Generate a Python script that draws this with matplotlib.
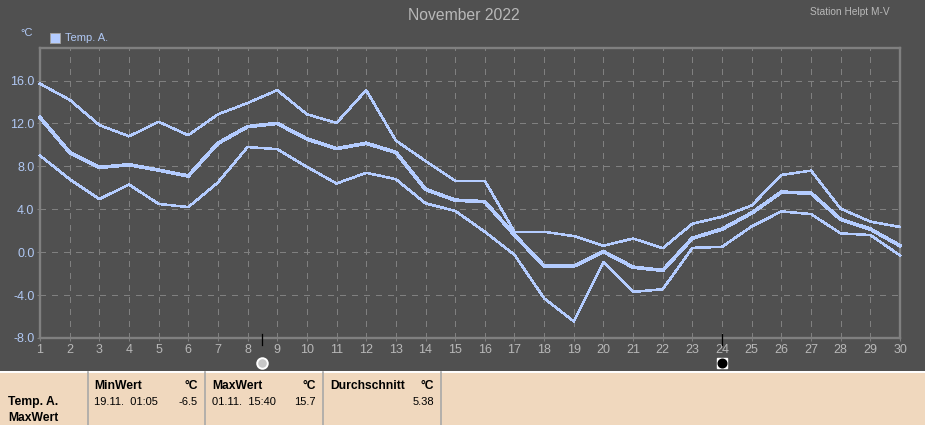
import matplotlib
matplotlib.use("Agg")
import matplotlib.pyplot as plt
from matplotlib.patches import Rectangle
from matplotlib.transforms import blended_transform_factory

plt.rcParams['font.family'] = ['Liberation Sans', 'DejaVu Sans']

days = list(range(1, 31))
temp_max = [15.7, 14.2, 11.85, 10.8, 12.15, 10.9, 12.85, 13.9, 15.1, 12.85,
            12.05, 15.1, 10.4, 8.5, 6.65, 6.65, 1.9, 1.9, 1.5, 0.6,
            1.27, 0.37, 2.65, 3.3, 4.35, 7.2, 7.6, 4.05, 2.85, 2.35]
temp_mean = [12.55, 9.3, 7.9, 8.15, 7.65, 7.1, 10.15, 11.7, 12.0, 10.55,
             9.65, 10.15, 9.3, 5.85, 4.85, 4.7, 1.6, -1.3, -1.3, 0.05,
             -1.4, -1.7, 1.3, 2.15, 3.65, 5.6, 5.5, 3.05, 2.15, 0.6]
temp_min = [9.0, 6.8, 4.95, 6.3, 4.5, 4.2, 6.5, 9.8, 9.6, 7.95,
            6.4, 7.4, 6.8, 4.55, 3.85, 1.9, -0.25, -4.3, -6.45, -0.95,
            -3.7, -3.45, 0.4, 0.5, 2.4, 3.8, 3.55, 1.75, 1.6, -0.3]
y_ticks = [-8, -4, 0, 4, 8, 12, 16]
full_moon_day = 8.5
new_moon_day = 24

BG = "#505050"
GRID = "#808080"
LINE = "#B4CCFF"
GREY_TEXT = "#B8B8B8"
STRIP = "#F0D8BE"
W, H = 925, 425

fig = plt.figure(figsize=(W / 100, H / 100), dpi=100, facecolor=BG)
ax = fig.add_axes([40 / W, 1 - 338 / H, 860 / W, 290 / H], facecolor=BG)

ax.plot(days, temp_max, color=LINE, lw=1.1, antialiased=False, zorder=3, clip_on=False)
ax.plot(days, temp_min, color=LINE, lw=1.1, antialiased=False, zorder=3, clip_on=False)
ax.plot(days, temp_mean, color=LINE, lw=1.9, antialiased=False, zorder=3, clip_on=False)

ax.set_xlim(1, 30)
ax.set_ylim(-8, 19.03)
ax.set_xticks(days)
ax.set_yticks(y_ticks)
ax.set_yticklabels([f"{v:.1f}" for v in y_ticks])
ax.grid(True, color=GRID, lw=0.8, linestyle=(0, (5, 6)), antialiased=False)
ax.set_axisbelow(True)
for s in ax.spines.values():
    s.set_color(GRID)
    s.set_linewidth(1.7)
ax.tick_params(axis='x', colors=GREY_TEXT, labelsize=9, length=2.5, width=0.7, color=GRID, pad=2)
ax.tick_params(axis='y', colors="#B0C8F4", labelsize=9, length=2.5, width=0.7, color=GRID, pad=1.5)

# moon phases under the axis
tr = blended_transform_factory(ax.transData, ax.transAxes)
for d in [full_moon_day, new_moon_day]:
    ax.plot([d, d], [0.014, -0.024], color="black", lw=0.9, transform=tr, clip_on=False, zorder=5)
ax.plot(full_moon_day, -0.086, "o", ms=7.6, mfc="#C8C8C8", mec="white", mew=1.4,
        transform=tr, clip_on=False)
ax.plot(new_moon_day, -0.086, "s", ms=7.6, mfc="white", mec="white", transform=tr, clip_on=False)
ax.plot(new_moon_day, -0.086, "o", ms=6.2, mfc="black", mec="black", transform=tr, clip_on=False)

# header texts, pixel coords
fig.text(464 / W, 1 - 15.5 / H, "November 2022", color=GREY_TEXT, fontsize=11.3,
         ha="center", va="center")
fig.text(890 / W, 1 - 12 / H, "Station Helpt M-V", color=GREY_TEXT, fontsize=7.3,
         ha="right", va="center")
fig.text(20 / W, 1 - 33 / H, "°C", color="#B0C8F4", fontsize=8, va="center")
fig.patches.append(Rectangle((50 / W, 1 - 43 / H), 10 / W, 10 / H, transform=fig.transFigure,
                             facecolor=LINE, edgecolor="#A0A0A0", lw=0.7, figure=fig))
fig.text(65 / W, 1 - 38 / H, "Temp. A.", color="#B0C8F4", fontsize=8, va="center")

# statistics strip at the bottom
tb = fig.add_axes([0, 0, 1, 54 / H], facecolor=STRIP)
tb.set_xlim(0, W)
tb.set_ylim(H, H - 54)
tb.axis("off")
tb.add_patch(Rectangle((0, H - 54), W, 54, facecolor=STRIP, edgecolor="none"))
tb.plot([0, W], [372, 372], color="white", lw=1.4)
for x in [88, 205, 323, 441]:
    tb.plot([x, x], [372, H], color="#A8A8A8", lw=1.2)

col_left = [94, 212, 330]
col_right = [198, 316, 434]
col_heads = ["MinWert", "MaxWert", "Durchschnitt"]
col_times = ["19.11.  01:05", "01.11.  15:40", ""]
col_vals = ["-6.5", "15.7", "5.38"]

for xl, xr, head, when, val in zip(col_left, col_right, col_heads, col_times, col_vals):
    tb.text(xl, 386.5, head, fontsize=8.7, fontweight="bold", color="black", va="center")
    tb.text(xr, 386.5, "°C", fontsize=8.7, fontweight="bold", color="black", va="center", ha="right")
    tb.text(xl, 402, when, fontsize=8, color="black", va="center")
    tb.text(xr, 402, val, fontsize=8, color="black", va="center", ha="right")
tb.text(8.5, 402.5, "Temp. A.", fontsize=8.7, fontweight="bold", color="black", va="center")
tb.text(8.5, 418, "MaxWert", fontsize=8.7, fontweight="bold", color="black", va="center")

fig.savefig("out.png", dpi=100, facecolor=BG)
